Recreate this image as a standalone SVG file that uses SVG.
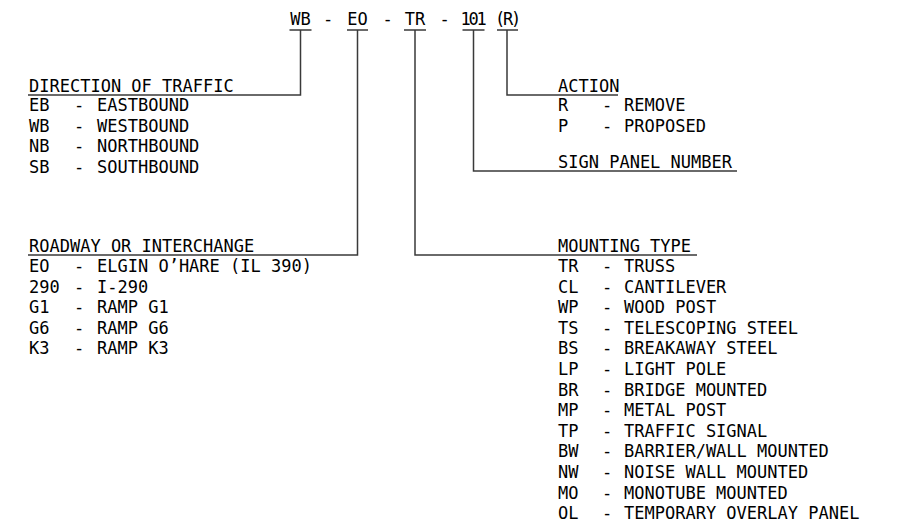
<svg xmlns="http://www.w3.org/2000/svg" width="899" height="529" viewBox="0 0 899 529">
<style>
text{font-family:"DejaVu Sans Mono","Liberation Mono",monospace;font-size:17px;fill:#000}
.c{text-anchor:middle}
.t{letter-spacing:-2.2px}
.ln{stroke:#3a3a3a;stroke-width:1.5;fill:none}
</style>
<rect width="899" height="529" fill="#fff"/>
<g id="code">
<text class="c" x="300.5" y="25">WB</text>
<text class="c" x="328" y="25">-</text>
<text class="c" x="357.5" y="25">EO</text>
<text class="c" x="387.5" y="25">-</text>
<text class="c" x="415" y="25">TR</text>
<text class="c" x="444.5" y="25">-</text>
<text class="c t" x="472.5" y="25">101</text>
<text class="c t" x="507" y="25">(R)</text>
</g>
<g id="connectors" class="ln">
<path d="M289.5 30H311.5M347 30H368M404 30H426M462.5 30H484.5M497 30H518"/>
<path d="M300.5 30V95H28"/>
<path d="M357.5 30V255H28"/>
<path d="M415 30V255H697"/>
<path d="M473.5 30V171H737"/>
<path d="M507 30V95H618"/>
</g>
<g id="direction">
<text x="29" y="92">DIRECTION OF TRAFFIC</text>
<text x="29" y="111">EB</text><text x="74" y="111">-</text><text x="97" y="111">EASTBOUND</text>
<text x="29" y="131.6">WB</text><text x="74" y="131.6">-</text><text x="97" y="131.6">WESTBOUND</text>
<text x="29" y="152.2">NB</text><text x="74" y="152.2">-</text><text x="97" y="152.2">NORTHBOUND</text>
<text x="29" y="172.8">SB</text><text x="74" y="172.8">-</text><text x="97" y="172.8">SOUTHBOUND</text>
</g>
<g id="roadway">
<text x="29" y="252">ROADWAY OR INTERCHANGE</text>
<text x="29" y="272">EO</text><text x="74" y="272">-</text><text x="97" y="272">ELGIN O’HARE (IL 390)</text>
<text x="29" y="292.6">290</text><text x="74" y="292.6">-</text><text x="97" y="292.6">I-290</text>
<text x="29" y="313.2">G1</text><text x="74" y="313.2">-</text><text x="97" y="313.2">RAMP G1</text>
<text x="29" y="333.8">G6</text><text x="74" y="333.8">-</text><text x="97" y="333.8">RAMP G6</text>
<text x="29" y="354.4">K3</text><text x="74" y="354.4">-</text><text x="97" y="354.4">RAMP K3</text>
</g>
<g id="action">
<text x="558" y="92">ACTION</text>
<text x="558" y="111">R</text><text x="602" y="111">-</text><text x="624" y="111">REMOVE</text>
<text x="558" y="131.6">P</text><text x="602" y="131.6">-</text><text x="624" y="131.6">PROPOSED</text>
</g>
<g id="panel">
<text x="558" y="168">SIGN PANEL NUMBER</text>
</g>
<g id="mounting">
<text x="558" y="252">MOUNTING TYPE</text>
<text x="558" y="272">TR</text><text x="602" y="272">-</text><text x="624" y="272">TRUSS</text>
<text x="558" y="292.6">CL</text><text x="602" y="292.6">-</text><text x="624" y="292.6">CANTILEVER</text>
<text x="558" y="313.2">WP</text><text x="602" y="313.2">-</text><text x="624" y="313.2">WOOD POST</text>
<text x="558" y="333.8">TS</text><text x="602" y="333.8">-</text><text x="624" y="333.8">TELESCOPING STEEL</text>
<text x="558" y="354.4">BS</text><text x="602" y="354.4">-</text><text x="624" y="354.4">BREAKAWAY STEEL</text>
<text x="558" y="375">LP</text><text x="602" y="375">-</text><text x="624" y="375">LIGHT POLE</text>
<text x="558" y="395.6">BR</text><text x="602" y="395.6">-</text><text x="624" y="395.6">BRIDGE MOUNTED</text>
<text x="558" y="416.2">MP</text><text x="602" y="416.2">-</text><text x="624" y="416.2">METAL POST</text>
<text x="558" y="436.8">TP</text><text x="602" y="436.8">-</text><text x="624" y="436.8">TRAFFIC SIGNAL</text>
<text x="558" y="457.4">BW</text><text x="602" y="457.4">-</text><text x="624" y="457.4">BARRIER/WALL MOUNTED</text>
<text x="558" y="478">NW</text><text x="602" y="478">-</text><text x="624" y="478">NOISE WALL MOUNTED</text>
<text x="558" y="498.6">MO</text><text x="602" y="498.6">-</text><text x="624" y="498.6">MONOTUBE MOUNTED</text>
<text x="558" y="519.2">OL</text><text x="602" y="519.2">-</text><text x="624" y="519.2">TEMPORARY OVERLAY PANEL</text>
</g>
</svg>
